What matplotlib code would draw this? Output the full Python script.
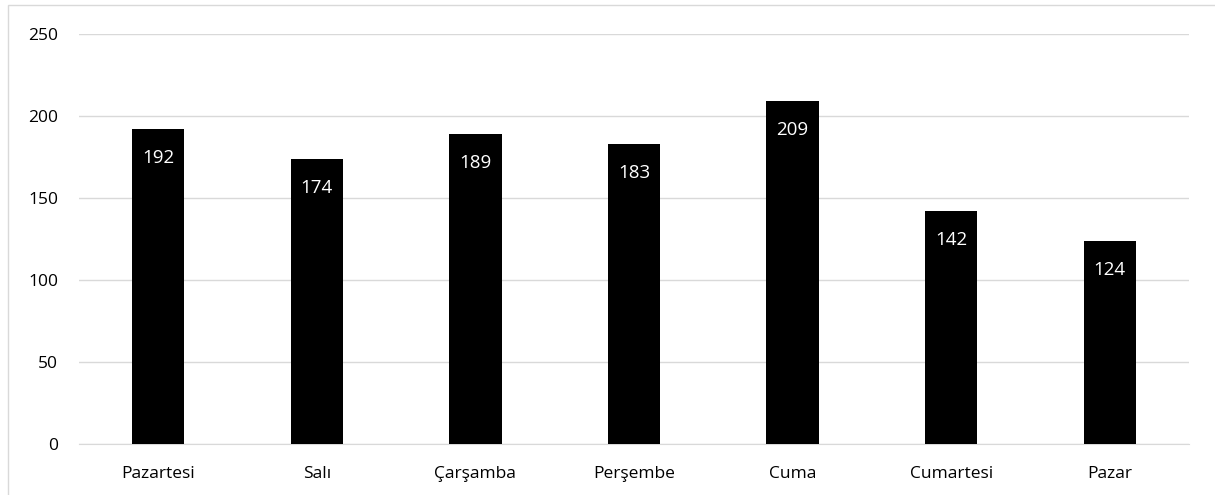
import matplotlib
matplotlib.use("Agg")
import matplotlib.pyplot as plt
from matplotlib.patches import Rectangle

categories = ["Pazartesi", "Salı", "Çarşamba", "Perşembe", "Cuma", "Cumartesi", "Pazar"]
values = [192, 174, 189, 183, 209, 142, 124]
yticks = [0, 50, 100, 150, 200, 250]

plt.rcParams['font.family'] = ['Open Sans', 'DejaVu Sans']

W, H = 1215, 495
fig = plt.figure(figsize=(W / 100, H / 100), dpi=100)
fig.patch.set_facecolor("white")

# outer chart border (top & left visible)
fig.patches.append(Rectangle((8 / W, -0.1), 1.2, 1 - 5 / H + 0.1, transform=fig.transFigure,
                             fill=False, edgecolor="#d9d9d9", linewidth=1.0, zorder=0))

ax = fig.add_axes([79 / W, 1 - 444 / H, (1189 - 79) / W, (444 - 34) / H])
x = range(len(categories))
bars = ax.bar(x, values, width=0.33, color="black", zorder=3)
ax.set_xlim(-0.5, len(categories) - 0.5)
ax.set_ylim(0, 250)
ax.set_yticks(yticks)
ax.set_xticks(list(x))
ax.set_xticklabels(categories)
ax.yaxis.grid(True, color="#d9d9d9", linewidth=1.0, zorder=0)
ax.set_axisbelow(True)
for s in ["top", "right", "left"]:
    ax.spines[s].set_visible(False)
ax.spines["bottom"].set_color("#d9d9d9")
ax.tick_params(axis="both", length=0, labelsize=12.5, colors="#000000")
ax.tick_params(axis="x", pad=16)
ax.tick_params(axis="y", pad=15)

for b, v in zip(bars, values):
    ax.annotate(str(v), (b.get_x() + b.get_width() / 2, v), xytext=(0, -29),
                textcoords="offset pixels", ha="center", va="center",
                color="white", fontsize=13.5, zorder=4)

fig.savefig("out.png", dpi=100, facecolor="white")
